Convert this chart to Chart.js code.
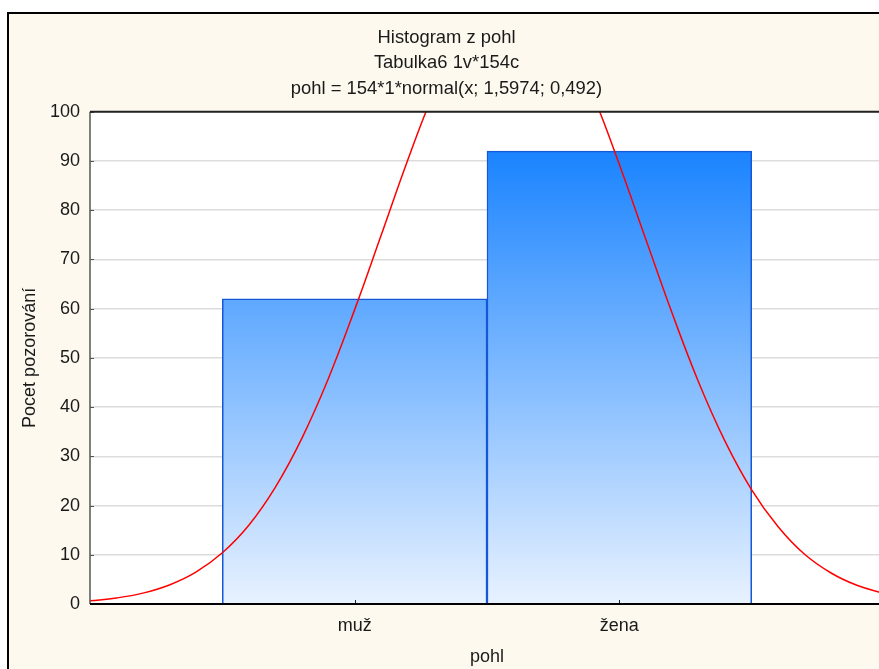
<!DOCTYPE html>
<html>
<head>
<meta charset="utf-8">
<script src="https://cdn.jsdelivr.net/npm/chart.js@4"></script>
<style>
  html, body { margin: 0; padding: 0; background: #ffffff; overflow: hidden; }
  #frame {
    position: absolute; left: 7px; top: 12px;
    width: 900px; height: 700px;
    border: 2px solid #000;
    background: #fdf9ef;
  }
  #holder { position: absolute; left: 0; top: 0; width: 888px; height: 655px; }
</style>
</head>
<body>
<div id="frame"><div id="holder"><canvas id="histChart"></canvas></div></div>
<script>
// Data
const categories = ["muž", "žena"];
const counts = [62, 92];
const yTicks = [0, 10, 20, 30, 40, 50, 60, 70, 80, 90, 100];
const titleLines = ["Histogram z pohl", "Tabulka6 1v*154c", "pohl = 154*1*normal(x; 1,5974; 0,492)"];

// Fitted normal curve, read along the x axis
const curveX = [0, 0.1, 0.2, 0.3, 0.4, 0.5, 0.6, 0.7, 0.8, 0.9, 1.0, 1.1, 1.2, 1.3, 1.4, 1.5,
                1.6, 1.7, 1.8, 1.9, 2.0, 2.1, 2.2, 2.3, 2.4, 2.5, 2.6, 2.7, 2.8, 2.9, 3.0];
const curveY = [0.64, 1.22, 2.21, 3.86, 6.46, 10.4, 16.0, 23.7, 33.6, 45.7, 59.8, 74.9, 90.1, 104.0, 115.2, 122.5,
                124.9, 122.2, 114.7, 103.4, 89.3, 74.1, 59.0, 45.0, 33.0, 23.2, 15.7, 10.1, 6.3, 3.75, 2.15];

const barData = categories.map((c, i) => ({ x: i + 1, y: counts[i] }));
const lineData = curveX.map((x, i) => ({ x: x, y: curveY[i] }));

// white plot area, inner tick marks, plot border
const plotDecor = {
    id: "plotDecor",
    beforeDraw(chart) {
        const a = chart.chartArea;
        const ctx = chart.ctx;
        ctx.save();
        ctx.fillStyle = "#ffffff";
        ctx.fillRect(a.left, a.top, a.right - a.left, a.bottom - a.top);
        ctx.restore();
    },
    afterDraw(chart) {
        const a = chart.chartArea;
        const ctx = chart.ctx;
        const ys = chart.scales.y;
        const xs = chart.scales.x;
        ctx.save();
        ctx.strokeStyle = "#555";
        ctx.lineWidth = 1;
        yTicks.forEach(v => {
            const py = Math.round(ys.getPixelForValue(v)) + 0.5;
            ctx.beginPath();
            ctx.moveTo(a.left, py);
            ctx.lineTo(a.left + 4, py);
            ctx.stroke();
        });
        ctx.strokeStyle = "#222";
        categories.forEach((c, i) => {
            const px = Math.round(xs.getPixelForValue(i + 1)) + 0.5;
            ctx.beginPath();
            ctx.moveTo(px, a.bottom);
            ctx.lineTo(px, a.bottom - 4);
            ctx.stroke();
        });
        // left axis
        ctx.strokeStyle = "#555";
        ctx.lineWidth = 1.5;
        ctx.beginPath();
        ctx.moveTo(a.left, a.top);
        ctx.lineTo(a.left, a.bottom);
        ctx.stroke();
        // top and bottom
        ctx.strokeStyle = "#222";
        ctx.lineWidth = 2;
        ctx.beginPath();
        ctx.moveTo(a.left, a.top);
        ctx.lineTo(a.right, a.top);
        ctx.stroke();
        ctx.strokeStyle = "#000";
        ctx.beginPath();
        ctx.moveTo(a.left, a.bottom);
        ctx.lineTo(a.right, a.bottom);
        ctx.stroke();
        ctx.restore();
    }
};

function barGradient(context) {
    const chart = context.chart;
    const a = chart.chartArea;
    if (!a) return "#5aa8ff";
    const g = chart.ctx.createLinearGradient(0, a.top, 0, a.bottom);
    g.addColorStop(0, "rgb(8,122,255)");
    g.addColorStop(1, "rgb(232,242,255)");
    return g;
}

Chart.defaults.font.family = "'Liberation Sans', Arial, sans-serif";
Chart.defaults.color = "#1a1a1a";

new Chart(document.getElementById("histChart"), {
    data: {
        datasets: [
            {
                type: "line",
                data: lineData,
                borderColor: "#ff0000",
                borderWidth: 1.5,
                pointRadius: 0,
                tension: 0.4,
                order: 0
            },
            {
                type: "bar",
                data: barData,
                backgroundColor: barGradient,
                borderColor: "#1458d8",
                borderWidth: 1.5,
                barPercentage: 1.0,
                categoryPercentage: 1.0,
                order: 1
            }
        ]
    },
    options: {
        responsive: true,
        maintainAspectRatio: false,
        animation: false,
        devicePixelRatio: 1,
        layout: { padding: { left: 0, right: 13, top: 0, bottom: 0 } },
        plugins: {
            legend: { display: false },
            tooltip: { enabled: false },
            title: {
                display: true,
                text: titleLines,
                color: "#1a1a1a",
                font: { size: 18.4, weight: "normal", lineHeight: 1.39 },
                padding: { top: 11, bottom: 10 }
            }
        },
        scales: {
            x: {
                type: "linear",
                min: 0,
                max: 3,
                offset: false,
                grid: { display: false, drawTicks: false, offset: false },
                border: { display: false },
                ticks: {
                    stepSize: 1,
                    padding: 11,
                    font: { size: 18 },
                    callback: v => (v >= 1 && v <= categories.length && Number.isInteger(v)) ? categories[v - 1] : ""
                },
                title: { display: true, text: "pohl", font: { size: 18 }, padding: { top: 0, bottom: 1 } },
                afterFit: s => { s.height = 65; }
            },
            y: {
                min: 0,
                max: 100,
                grid: { color: "#dcdcdc", lineWidth: 1.5, drawTicks: false },
                border: { display: false },
                ticks: { stepSize: 10, padding: 10, font: { size: 18 } },
                title: { display: true, text: "Pocet pozorování", font: { size: 18 }, padding: { top: 10, bottom: 0 } },
                afterFit: s => { s.width = 81; }
            }
        }
    },
    plugins: [plotDecor]
});
</script>
</body>
</html>
